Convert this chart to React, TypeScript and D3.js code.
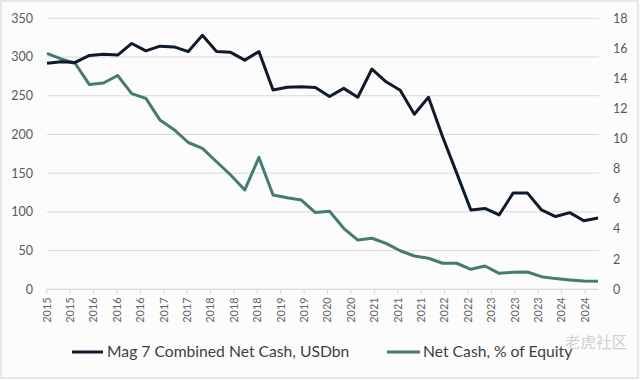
import React from "react";
import * as d3 from "d3";

const xLabels = [
  "2015", "2015", "2016", "2016", "2016", "2017", "2017", "2018", "2018", "2018",
  "2019", "2019", "2020", "2020", "2021", "2021", "2021", "2022", "2022", "2023",
  "2023", "2023", "2024", "2024",
];

const netCashUSDbn = [
  292, 294, 293, 302, 303.5, 302.5, 317.5, 308, 314, 313,
  307, 328, 307, 306, 296, 307, 257.5, 261, 261.5, 260.5,
  249, 259.5, 248, 284.5, 268, 257, 226, 248, 197, 150,
  102.5, 104.5, 96, 124.5, 124.5, 102.5, 94, 99, 88.5, 92,
];

const netCashPctEquity = [
  15.67, 15.3, 15.0, 13.6, 13.7, 14.2, 13.0, 12.68, 11.24, 10.6,
  9.75, 9.36, 8.47, 7.59, 6.6, 8.76, 6.26, 6.08, 5.93, 5.1,
  5.18, 4.05, 3.27, 3.39, 3.05, 2.56, 2.21, 2.06, 1.73, 1.73,
  1.33, 1.55, 1.06, 1.13, 1.15, 0.84, 0.71, 0.62, 0.55, 0.53,
];

const leftTicks = [0, 50, 100, 150, 200, 250, 300, 350];
const rightTicks = [0, 2, 4, 6, 8, 10, 12, 14, 16, 18];

const seriesNames = ["Mag 7 Combined Net Cash, USDbn", "Net Cash, % of Equity"];
const seriesColors = ["#0f1a2c", "#447b73"];

const W = 640;
const H = 380;
const plotLeft = 47;
const plotRight = 599;
const plotTop = 18.3;
const plotBottom = 289.3;
const FONT = "Lato, 'Open Sans', sans-serif";

export default function App() {
  const x = d3.scaleLinear().domain([0, netCashUSDbn.length - 1]).range([plotLeft, 598]);
  const xTick = d3
    .scalePoint<number>()
    .domain(xLabels.map((_, i) => i))
    .range([46.7, 585]);
  const yL = d3.scaleLinear().domain([0, 350]).range([plotBottom, plotTop]);
  const yR = d3.scaleLinear().domain([0, 18]).range([plotBottom, plotTop]);

  const lineL = d3
    .line<number>()
    .x((_, i) => x(i))
    .y((d) => yL(d));
  const lineR = d3
    .line<number>()
    .x((_, i) => x(i))
    .y((d) => yR(d));

  return (
    <svg
      width={W}
      height={H}
      style={{ position: "absolute", left: 0, top: 0, background: "#fcfcfd" }}
      fontFamily={FONT}
    >
      <rect x={1} y={1} width={W - 3} height={H - 3} fill="#fcfcfd" stroke="#d9d9d9" strokeWidth={1.2} />
      {leftTicks.map((t) => (
        <line
          key={"g" + t}
          x1={plotLeft}
          x2={plotRight}
          y1={yL(t)}
          y2={yL(t)}
          stroke={t === 0 ? "#d0d0d0" : "#d9d9d9"}
          strokeWidth={1}
        />
      ))}
      {leftTicks.map((t) => (
        <text key={"l" + t} x={33} y={yL(t)} dy="0.35em" textAnchor="end" fontSize={12.5} fill="#595959">
          {t}
        </text>
      ))}
      {rightTicks.map((t) => (
        <text key={"r" + t} x={613} y={yR(t)} dy="0.35em" textAnchor="start" fontSize={12.5} fill="#595959">
          {t}
        </text>
      ))}
      {xLabels.map((lab, i) => (
        <g key={"x" + i}>
          <line x1={xTick(i)} x2={xTick(i)} y1={plotBottom} y2={plotBottom + 4} stroke="#d0d0d0" />
          <text
            transform={`translate(${xTick(i)},${plotBottom + 8}) rotate(-90)`}
            textAnchor="end"
            dy="0.35em"
            fontSize={11}
            fill="#666666"
          >
            {lab}
          </text>
        </g>
      ))}
      <path d={lineR(netCashPctEquity) || ""} fill="none" stroke={seriesColors[1]} strokeWidth={3} strokeLinejoin="round" />
      <path d={lineL(netCashUSDbn) || ""} fill="none" stroke={seriesColors[0]} strokeWidth={3} strokeLinejoin="round" />

      <line x1={72} x2={103} y1={352} y2={352} stroke={seriesColors[0]} strokeWidth={3} />
      <text x={107} y={352} dy="0.35em" fontSize={15.7} fill="#404040">
        {seriesNames[0]}
      </text>
      <line x1={387} x2={420} y1={352} y2={352} stroke={seriesColors[1]} strokeWidth={3} />
      <text x={423} y={352} dy="0.35em" fontSize={15.7} fill="#404040">
        {seriesNames[1]}
      </text>
      <text x={565} y={348} fontSize={15.5} fill="#d0d0d0" fontFamily="'Noto Sans CJK SC', sans-serif">
        老虎社区
      </text>
    </svg>
  );
}
